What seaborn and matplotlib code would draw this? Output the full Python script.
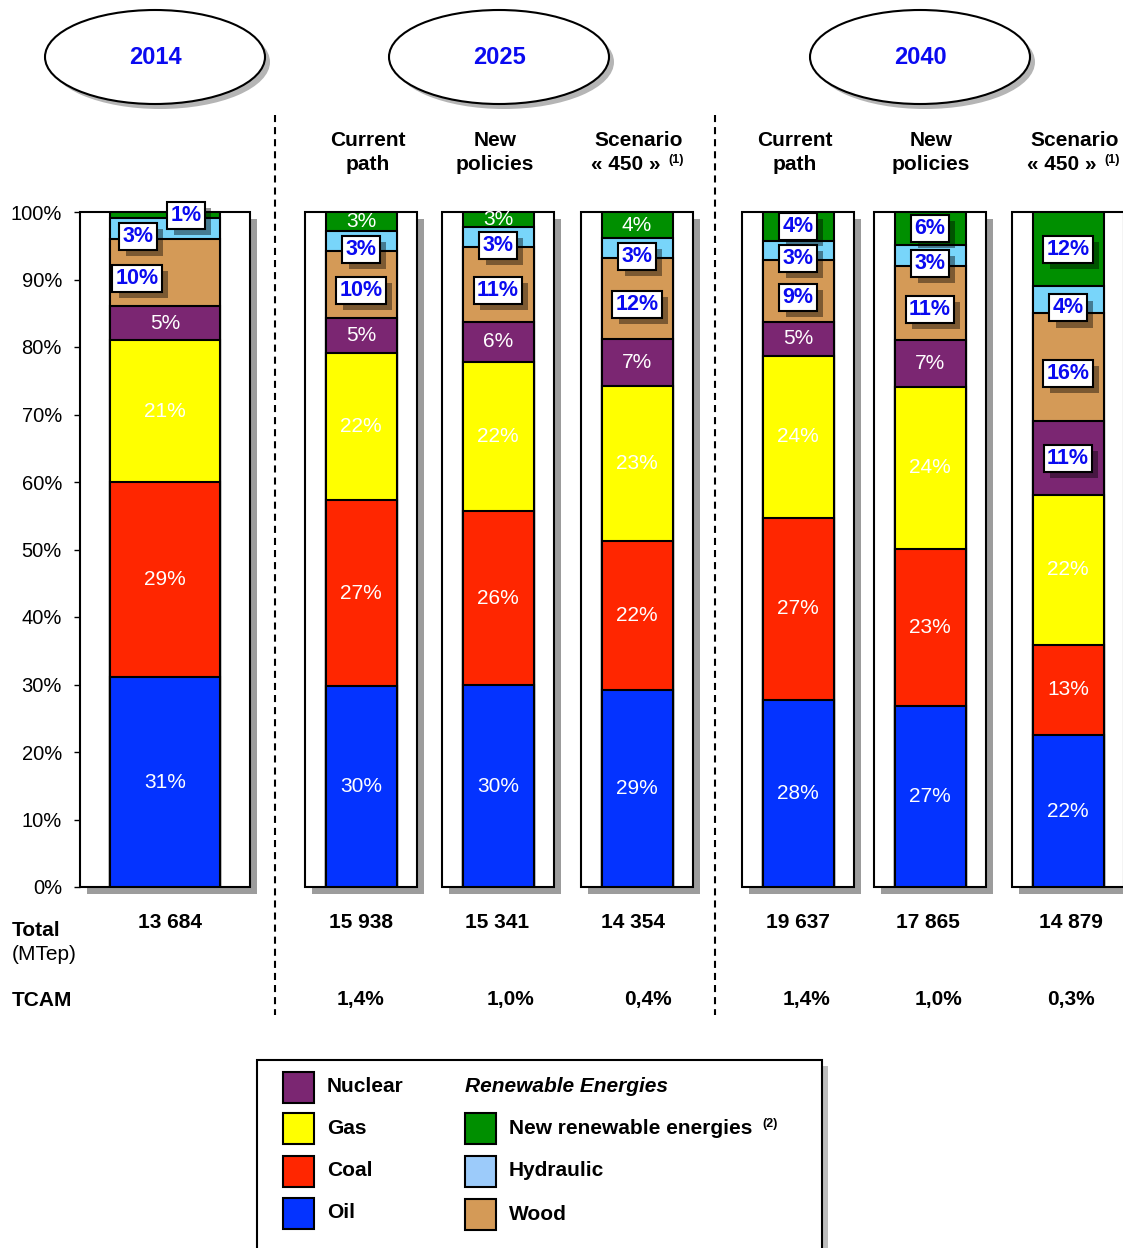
import seaborn as sns
import pandas as pd
import numpy as np
import matplotlib.pyplot as plt
import matplotlib.patheffects as pe
from matplotlib.patches import Rectangle, Ellipse

sns.set_style("white")
plt.rcParams["font.family"] = ["Liberation Sans", "DejaVu Sans"]
plt.rcParams.update({"text.color": "black", "ytick.color": "black",
                     "xtick.color": "black", "axes.labelcolor": "black"})

# ---- data (shares in %) ----
energies = ["Oil", "Coal", "Gas", "Nuclear", "Wood", "Hydraulic", "New renewable energies"]
scenarios = ["2014", "2025 Current path", "2025 New policies", "2025 Scenario 450",
             "2040 Current path", "2040 New policies", "2040 Scenario 450"]

oil = [31.1, 29.8, 29.9, 29.2, 27.7, 26.8, 22.5]
coal = [28.9, 27.5, 25.8, 22.1, 27.0, 23.3, 13.4]
gas = [21.0, 21.8, 22.1, 22.9, 24.0, 24.0, 22.2]
nuclear = [5.1, 5.2, 5.9, 7.0, 5.0, 6.9, 10.9]
wood = [9.9, 9.9, 11.1, 12.0, 9.2, 11.0, 16.0]
hydraulic = [3.1, 3.0, 3.0, 2.9, 2.8, 3.1, 4.0]
new_renew = [0.9, 2.8, 2.2, 3.9, 4.3, 4.9, 11.0]

# rounded shares as printed on the bars
oil_lbl = [31, 30, 30, 29, 28, 27, 22]
coal_lbl = [29, 27, 26, 22, 27, 23, 13]
gas_lbl = [21, 22, 22, 23, 24, 24, 22]
nuclear_lbl = [5, 5, 6, 7, 5, 7, 11]
wood_lbl = [10, 10, 11, 12, 9, 11, 16]
hydraulic_lbl = [3, 3, 3, 3, 3, 3, 4]
new_renew_lbl = [1, 3, 3, 4, 4, 6, 12]

totals = ["13 684", "15 938", "15 341", "14 354", "19 637", "17 865", "14 879"]
tcam = ["", "1,4%", "1,0%", "0,4%", "1,4%", "1,0%", "0,3%"]
years = ["2014", "2025", "2040"]

df = pd.DataFrame({"scenario": scenarios, "Oil": oil, "Coal": coal, "Gas": gas,
                   "Nuclear": nuclear, "Wood": wood, "Hydraulic": hydraulic,
                   "New renewable energies": new_renew})
labels = pd.DataFrame({"Oil": oil_lbl, "Coal": coal_lbl, "Gas": gas_lbl,
                       "Nuclear": nuclear_lbl, "Wood": wood_lbl,
                       "Hydraulic": hydraulic_lbl, "New renewable energies": new_renew_lbl})
cum = df[energies].cumsum(axis=1)

colors = {"Oil": "#0433FF", "Coal": "#FF2600", "Gas": "#FFFF00", "Nuclear": "#7B2672",
          "Wood": "#D49A57", "Hydraulic": "#78D5FA", "New renewable energies": "#008F00"}
blue = "#0A0AF0"

# ---- layout ----
W, H = 1123, 1248
fig = plt.figure(figsize=(W / 100, H / 100), dpi=100)
ax = fig.add_axes([80 / W, (H - 887) / H, (W - 80) / W, 675 / H])

pos = np.array([165, 361, 498, 637, 798, 930, 1068])
frame_w = [170, 112, 112, 112, 112, 112, 112]
bar_w = [110, 71, 71, 71, 71, 71, 71]

for p, fw in zip(pos, frame_w):
    ax.add_patch(Rectangle((p - fw / 2 + 7, -1.1), fw, 100, fc="#9c9c9c", ec="none",
                           zorder=0.5, clip_on=False))
    ax.add_patch(Rectangle((p - fw / 2, 0), fw, 100, fc="white", ec="black", lw=1.5,
                           zorder=1, clip_on=False))

# stacked bars: cumulative heights drawn from the top layer down
for idx in [[0], [1, 2, 3, 4, 5, 6]]:
    xs = pos[idx]
    nat = 1 if len(idx) == 1 else np.diff(xs).min()
    for e in reversed(energies):
        sns.barplot(x=xs, y=cum.iloc[idx][e].values, native_scale=True, orient="x",
                    width=bar_w[idx[0]] / nat, color=colors[e], saturation=1,
                    edgecolor="black", linewidth=1.5, errorbar=None, ax=ax, zorder=2)

# labels
boxed = {(i, "Wood") for i in range(7)} | {(i, "Hydraulic") for i in range(7)}
boxed |= {(i, "New renewable energies") for i in [0, 4, 5, 6]} | {(6, "Nuclear")}
dy = {"Wood": -0.9, "Hydraulic": -1.2}
dx = {(0, "Wood"): -28, (0, "Hydraulic"): -27, (0, "New renewable energies"): 21}

for i in range(7):
    for e in energies:
        y = cum.loc[i, e] - df.loc[i, e] / 2
        x = pos[i] + dx.get((i, e), 0)
        s = f"{labels.loc[i, e]}%"
        if (i, e) in boxed:
            y += dy.get(e, 0)
            t = ax.text(x, y, s, ha="center", va="center", fontsize=15.5, fontweight="bold",
                        color=blue, zorder=5,
                        bbox=dict(boxstyle="square,pad=0.14", fc="white", ec="black", lw=1.5))
            t.get_bbox_patch().set_path_effects([
                pe.SimplePatchShadow(offset=(4.5, -4.5), shadow_rgbFace="black", alpha=0.42),
                pe.Normal()])
        else:
            ax.text(x, y, s, ha="center", va="center", fontsize=15, color="white", zorder=5)

ax.set_xlim(80, W)
ax.set_ylim(0, 100)
ax.set_xticks([])
ax.set_xlabel("")
ax.set_ylabel("")
ax.set_yticks(range(0, 101, 10))
ax.set_yticklabels([f"{v}%" for v in range(0, 101, 10)])
ax.tick_params(axis="y", direction="out", length=4, width=1, pad=9, labelsize=14.5,
               left=True, colors="black")
for side in ["top", "right", "bottom"]:
    ax.spines[side].set_visible(False)
ax.spines["left"].set_color("black")
ax.spines["left"].set_linewidth(1.2)
ax.patch.set_alpha(0)

# ---- overlay in pixel coordinates ----
ov = fig.add_axes([0, 0, 1, 1])
ov.set_xlim(0, W)
ov.set_ylim(H, 0)
ov.axis("off")

for cx, yr in zip([155, 499, 920], years):
    ov.add_patch(Ellipse((cx + 5, 62), 220, 94, fc="#b5b5b5", ec="none"))
    ov.add_patch(Ellipse((cx, 57), 220, 94, fc="white", ec="black", lw=1.5))
    ov.text(cx, 58, yr, ha="center", va="center", fontsize=17, fontweight="bold", color=blue)

for xl in [275, 715]:
    ov.plot([xl, xl], [115, 1015], color="black", lw=1.5, ls=(0, (3.4, 2.4)))

heads = [(368, "Current", "path"), (495, "New", "policies"),
         (795, "Current", "path"), (931, "New", "policies")]
for hx, l1, l2 in heads:
    ov.text(hx, 140, l1, ha="center", va="center", fontsize=15, fontweight="bold")
    ov.text(hx, 164, l2, ha="center", va="center", fontsize=15, fontweight="bold")
for hx in [639, 1075]:
    ov.text(hx, 140, "Scenario", ha="center", va="center", fontsize=15, fontweight="bold")
    ov.text(hx - 13, 164, "« 450 »", ha="center", va="center", fontsize=15, fontweight="bold")
    ov.text(hx + 29, 160, "(1)", ha="left", va="center", fontsize=9, fontweight="bold")

ov.text(12, 930, "Total", ha="left", va="center", fontsize=15, fontweight="bold")
ov.text(12, 954, "(MTep)", ha="left", va="center", fontsize=15)
ov.text(12, 1000, "TCAM", ha="left", va="center", fontsize=15, fontweight="bold")
for tx, t in zip([170, 361, 497, 633, 798, 928, 1071], totals):
    ov.text(tx, 922, t, ha="center", va="center", fontsize=15, fontweight="bold")
for tx, t in zip([170, 361, 510, 648, 806, 938, 1071], tcam):
    ov.text(tx, 1000, t, ha="center", va="center", fontsize=15, fontweight="bold")

# legend
ov.add_patch(Rectangle((263, 1066), 565, 200, fc="#bdbdbd", ec="none"))
ov.add_patch(Rectangle((257, 1060), 565, 200, fc="white", ec="black", lw=1.5))
legend_cols = [(283, [1087, 1128, 1171, 1213], ["Nuclear", "Gas", "Coal", "Oil"]),
               (465, [1128, 1171, 1214], ["New renewable energies", "Hydraulic", "Wood"])]
legend_face = dict(colors, Hydraulic="#9CCBFA")
for lx, ys, names in legend_cols:
    for ly, n in zip(ys, names):
        ov.add_patch(Rectangle((lx, ly - 15), 31, 31, fc=legend_face[n], ec="black", lw=1.5))
        ov.text(lx + 44, ly, n, ha="left", va="center", fontsize=15, fontweight="bold")
ov.text(465, 1087, "Renewable Energies", ha="left", va="center", fontsize=15,
        fontweight="bold", fontstyle="italic")
ov.text(762, 1124, "(2)", ha="left", va="center", fontsize=9, fontweight="bold")

fig.savefig("out.png", dpi=100)
